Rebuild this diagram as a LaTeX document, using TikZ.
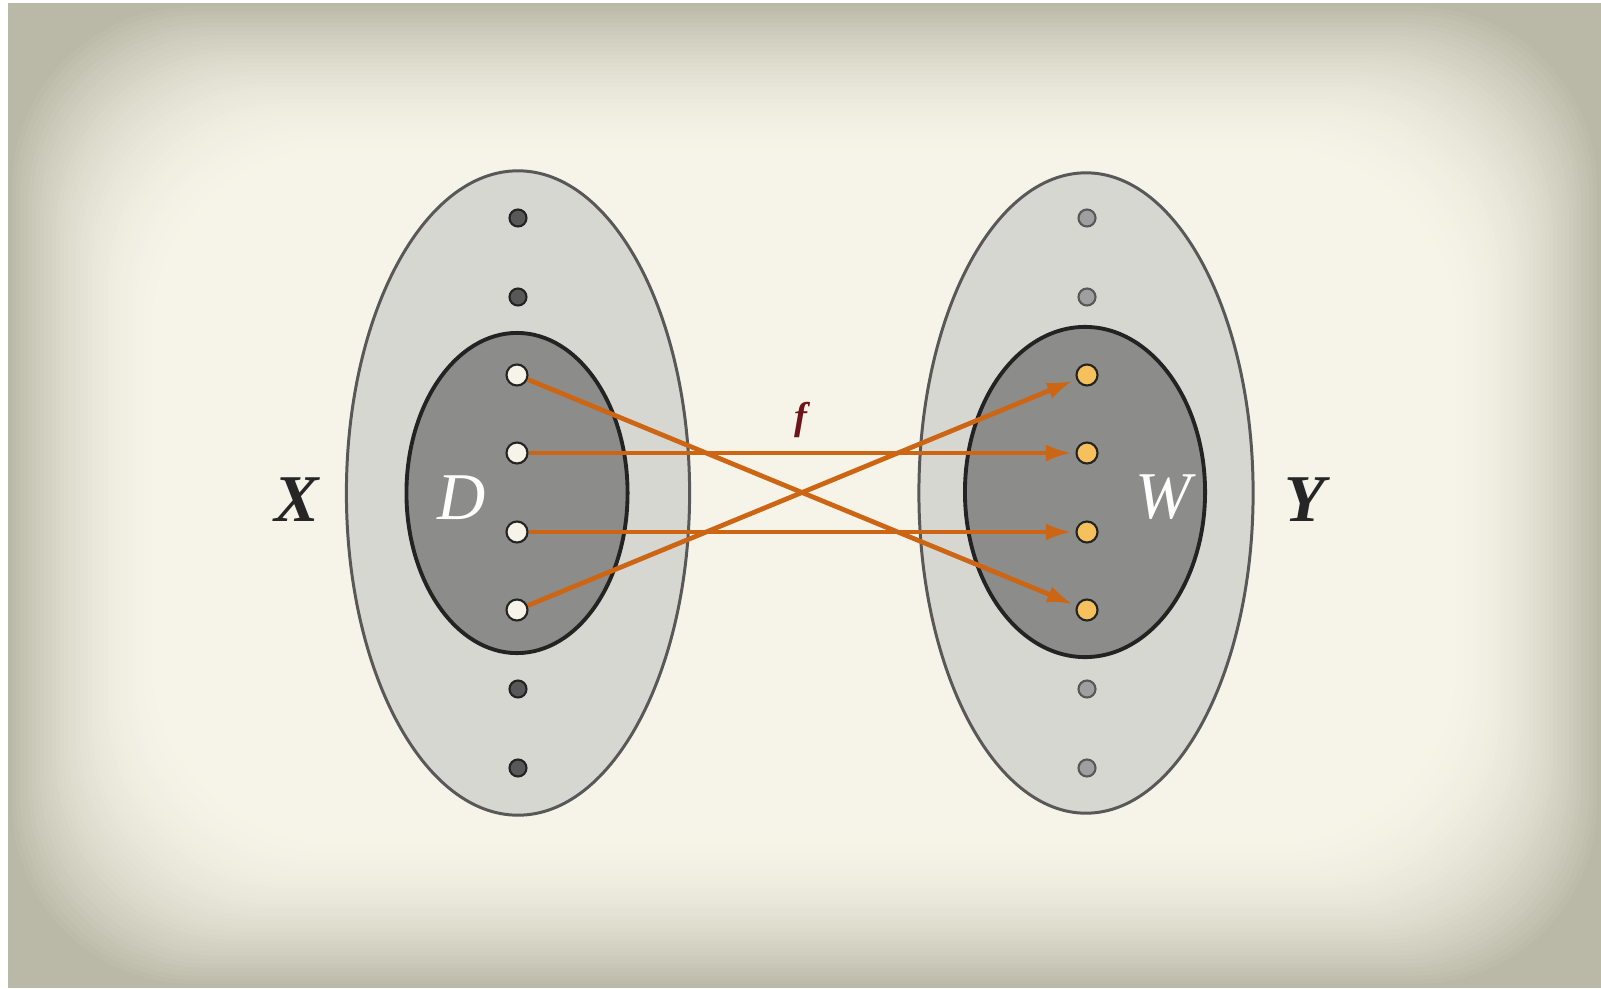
\documentclass[tikz,border=0pt]{standalone}
\usepackage{fontspec}
\setmainfont{Liberation Serif}
\usetikzlibrary{shapes.geometric,arrows.meta}

\definecolor{paperlight}{RGB}{246,244,232}
\definecolor{papershade}{RGB}{186,184,166}
\definecolor{outerfill}{RGB}{215,215,210}
\definecolor{innerfill}{RGB}{140,140,138}
\definecolor{outerline}{RGB}{88,88,88}
\definecolor{innerline}{RGB}{35,35,35}
\definecolor{maporange}{RGB}{204,102,20}
\definecolor{imgyellow}{RGB}{246,192,92}
\definecolor{fred}{RGB}{110,20,24}

\begin{document}
\begin{tikzpicture}[
    x=0.01cm, y=-0.01cm,
    set_outer/.style={ellipse, draw=outerline, line width=0.85pt, fill=outerfill, inner sep=0pt},
    set_inner/.style={ellipse, draw=innerline, line width=1.1pt, fill=innerfill, inner sep=0pt},
    pt/.style={circle, draw=innerline, line width=0.6pt, inner sep=0pt, minimum size=0.21cm},
    pt_x/.style={pt, fill=outerline, minimum size=0.17cm},
    pt_y/.style={pt, fill=gray!75, draw=outerline, minimum size=0.17cm},
    pt_dom/.style={pt, fill=paperlight},
    pt_img/.style={pt, fill=imgyellow},
    setlabel/.style={font=\fontsize{19}{22}\selectfont\bfseries\itshape, text=black!85},
    sublabel/.style={font=\fontsize{19}{22}\selectfont\itshape, text=white},
    line/.style={draw=maporange, line width=1.35pt, -{Latex[length=0.26cm,width=0.17cm]}, shorten >=1pt}
]

    % Background: old paper, darker towards the edges
    \useasboundingbox (0,0) rectangle (1601,988);
    \fill[white] (0,0) rectangle (1601,988);
    \fill[papershade] (8,3) rectangle (1601,988);
    \foreach \k in {1,...,40} {
        \pgfmathsetmacro\p{100*(1-(1-\k/40)^2)}
        \fill[paperlight!\p!papershade, rounded corners=1.8cm]
            (8+4*\k,3+4*\k) rectangle (1601-4*\k,988-4*\k);
    }

    % Sets
    \node [set_outer, minimum width=3.43cm, minimum height=6.44cm] (X) at (518,493) {};
    \node [set_inner, minimum width=2.21cm, minimum height=3.20cm] (D) at (517,493) {};
    \node [set_outer, minimum width=3.34cm, minimum height=6.40cm] (Y) at (1086,493) {};
    \node [set_inner, minimum width=2.40cm, minimum height=3.30cm] (W) at (1085,492) {};

    % Labels
    \node [setlabel] (xlab) at (297,500) {X};
    \node [setlabel] (ylab) at (1305,500) {Y};
    \node [sublabel] (dlab) at (462,498) {D};
    \node [sublabel] (wlab) at (1163,497) {W};

    % Points
    \foreach \y [count=\i] in {218,297,689,768} {
        \node [pt_x] (x\i) at (518,\y) {};
        \node [pt_y] (y\i) at (1087,\y) {};
    }
    \foreach \y [count=\i] in {375,453,532,610} {
        \node [pt_dom] (d\i) at (517,\y) {};
        \node [pt_img] (w\i) at (1087,\y) {};
    }

    % Mapping
    \path [line] (d1) -- (w4);
    \path [line] (d2) -- (w2);
    \path [line] (d3) -- (w3);
    \path [line] (d4) -- (w1);
    \node [font=\fontsize{11}{13}\selectfont\bfseries\itshape, text=fred] (f) at (801,420) {f};

\end{tikzpicture}
\end{document}
